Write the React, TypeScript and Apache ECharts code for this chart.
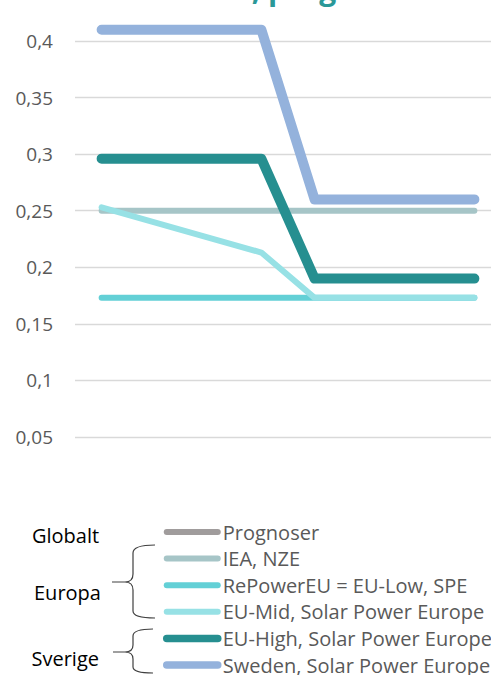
import { useEffect, useRef } from "react";
import * as echarts from "echarts";

// Steps along the horizontal axis (labels are not shown on the chart)
const categories = ["2023", "2024", "2025", "2026", "2027", "2028", "2029", "2030"];

const seriesNames = [
  "Prognoser",
  "IEA, NZE",
  "RePowerEU = EU-Low, SPE",
  "EU-Mid, Solar Power Europe",
  "EU-High, Solar Power Europe",
  "Sweden, Solar Power Europe",
];

const prognoser: (number | null)[] = [null, null, null, null, null, null, null, null];
const ieaNze = [0.25, 0.25, 0.25, 0.25, 0.25, 0.25, 0.25, 0.25];
const rePowerEU = [0.173, 0.173, 0.173, 0.173, 0.173, 0.173, 0.173, 0.173];
const euMid: (number | null)[] = [0.253, null, null, 0.213, 0.173, 0.173, 0.173, 0.173];
const euHigh = [0.296, 0.296, 0.296, 0.296, 0.19, 0.19, 0.19, 0.19];
const sweden = [0.41, 0.41, 0.41, 0.41, 0.26, 0.26, 0.26, 0.26];

const seriesData = [prognoser, ieaNze, rePowerEU, euMid, euHigh, sweden];

const yMin = 0;
const yMax = 0.45;
const yInterval = 0.05;

const groupLabels = ["Globalt", "Europa", "Sverige"];
const titleText = "LCOE, prognoser";

// Styling
const colors = ["#a09c9c", "#a6c5c7", "#63d0d6", "#97e1e5", "#268f90", "#94b2dc"];
const lineWidths = [6, 6, 6, 6, 10, 10];
const legendWidths = [6, 6, 6, 6, 7.5, 7.5];
const FONT = '"Open Sans", "Noto Sans", sans-serif';

// The canvas is larger than the visible frame; OFF shifts everything down into it.
const OFF = 20;
const CANVAS_W = 510;
const CANVAS_H = 710;

// Curly braces grouping the legend entries (frame coordinates)
const braceEuropa =
  "M155,545 Q133,545 133,553 L133,574 Q133,582 125,582 L112,582 M125,582 Q133,582 133,590 L133,611 Q133,618 155,618";
const braceSverige =
  "M153,629 Q133,629 133,636 L133,645 Q133,652 125,652 L113,652 M125,652 Q133,652 133,659 L133,667 Q133,673 153,673";

echarts.graphic.registerShape("braceEuropa", echarts.graphic.extendPath(braceEuropa, {}));
echarts.graphic.registerShape("braceSverige", echarts.graphic.extendPath(braceSverige, {}));

export default function App() {
  const ref = useRef<HTMLDivElement>(null);

  useEffect(() => {
    document.body.style.margin = "0";
    document.body.style.overflow = "hidden";
    if (!ref.current) return;
    const chart = echarts.init(ref.current, undefined, { renderer: "svg" });

    const fmt = (v: number) =>
      v === yMin || v >= yMax ? "" : String(Number(v.toFixed(2))).replace(".", ",");

    chart.setOption({
      animation: false,
      grid: { left: 75, width: 426, top: OFF - 15.6, height: 509.2, containLabel: false },
      xAxis: {
        type: "category",
        data: categories,
        boundaryGap: true,
        axisLine: { show: false },
        axisTick: { show: false },
        axisLabel: { show: false },
      },
      yAxis: {
        type: "value",
        min: yMin,
        max: yMax,
        interval: yInterval,
        axisLine: { show: false },
        axisTick: { show: false },
        axisLabel: {
          formatter: fmt,
          margin: 22,
          fontFamily: FONT,
          fontSize: 19,
          color: "#595959",
        },
        splitLine: {
          show: true,
          showMinLine: false,
          lineStyle: { color: "#d9d9d9", width: 1.3 },
        },
      },
      legend: {
        orient: "vertical",
        left: 163,
        top: OFF + 522,
        padding: 0,
        itemWidth: 51,
        itemHeight: 20,
        itemGap: 6.6,
        selectedMode: false,
        itemStyle: { color: "rgba(0,0,0,0)", borderWidth: 0, opacity: 0 },
        textStyle: { fontFamily: FONT, fontSize: 20, color: "#595959", lineHeight: 20 },
        data: seriesNames.map((name, i) => ({
          name,
          itemStyle: { color: "rgba(0,0,0,0)", borderWidth: 0, opacity: 0 },
          lineStyle: { color: colors[i], width: legendWidths[i], cap: "round" },
        })),
      },
      graphic: [
        {
          type: "text",
          x: 175,
          y: OFF - 12,
          style: {
            text: titleText,
            font: `bold 30px ${FONT}`,
            fill: "#2a9898",
            verticalAlign: "middle",
          },
        },
        ...groupLabels.map((t, i) => ({
          type: "text",
          x: [32, 34, 31.5][i],
          y: OFF + [535.5, 592, 658.5][i],
          style: {
            text: t,
            font: `20px ${FONT}`,
            fill: "#000000",
            verticalAlign: "middle",
          },
        })),
        {
          type: "braceEuropa",
          x: 0,
          y: OFF,
          style: { stroke: "#404040", lineWidth: 1.2, fill: "none" },
        },
        {
          type: "braceSverige",
          x: 0,
          y: OFF,
          style: { stroke: "#404040", lineWidth: 1.2, fill: "none" },
        },
      ],
      series: seriesNames.map((name, i) => ({
        name,
        type: "line",
        data: seriesData[i],
        symbol: "none",
        connectNulls: true,
        color: colors[i],
        lineStyle: { color: colors[i], width: lineWidths[i], cap: "round", join: "round" },
        emphasis: { disabled: true },
        z: 2 + i,
      })),
    });

    return () => chart.dispose();
  }, []);

  return (
    <div style={{ position: "relative", width: 491, height: 675, overflow: "hidden" }}>
      <div
        ref={ref}
        style={{ position: "absolute", left: 0, top: -OFF, width: CANVAS_W, height: CANVAS_H }}
      />
    </div>
  );
}
